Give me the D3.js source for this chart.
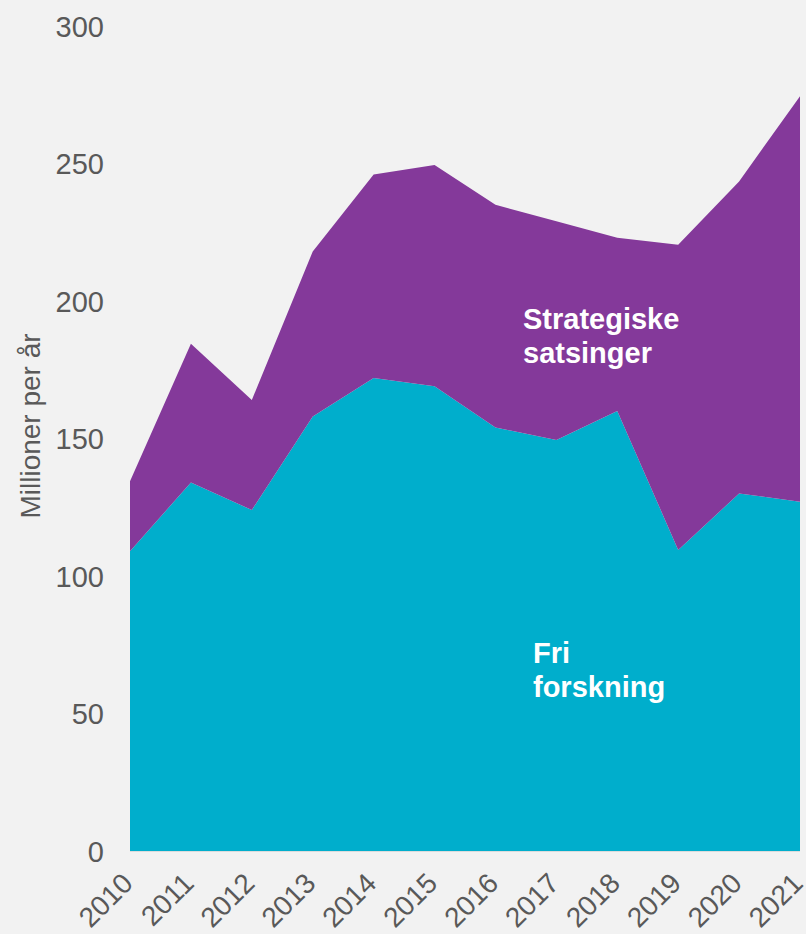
<!DOCTYPE html>
<html>
<head>
<meta charset="utf-8">
<script src="https://cdn.jsdelivr.net/npm/d3@7"></script>
<style>
  html, body { margin: 0; padding: 0; background: #f2f2f2; }
  svg { display: block; }
  text { font-family: "Liberation Sans", Arial, Helvetica, sans-serif; }
</style>
</head>
<body>
<svg id="chart" width="806" height="934"></svg>
<script>
// Yearly funding, million NOK per year
const years = [2010, 2011, 2012, 2013, 2014, 2015, 2016, 2017, 2018, 2019, 2020, 2021];
const friForskning = [109, 134, 124, 158, 172, 169, 154, 149.5, 160, 109.5, 130, 127];
const strategiske = [25.5, 50.5, 40, 60, 74, 80.5, 81, 79.5, 63, 111, 113.5, 147.5];
const yTicks = [0, 50, 100, 150, 200, 250, 300];
const seriesKeys = ["fri", "strategiske"];
const seriesNames = { fri: ["Fri", "forskning"], strategiske: ["Strategiske", "satsinger"] };
const colors = { fri: "#00aecc", strategiske: "#84399a" };

const rows = years.map((yr, i) => ({ year: yr, fri: friForskning[i], strategiske: strategiske[i] }));

const svg = d3.select("#chart");
const plotLeft = 130, plotRight = 800, plotTop = 26, plotBottom = 851;

const x = d3.scaleLinear().domain([years[0], years[years.length - 1]]).range([plotLeft, plotRight]);
const y = d3.scaleLinear().domain([0, 300]).range([plotBottom, plotTop]);

const stacked = d3.stack().keys(seriesKeys)(rows);

const area = d3.area()
  .x(d => x(d.data.year))
  .y0(d => y(d[0]))
  .y1(d => y(d[1]));

svg.append("g").selectAll("path")
  .data(stacked)
  .join("path")
  .attr("d", area)
  .attr("fill", d => colors[d.key]);

// faint baseline under the areas
svg.append("line")
  .attr("x1", plotLeft).attr("x2", plotRight)
  .attr("y1", plotBottom + 0.5).attr("y2", plotBottom + 0.5)
  .attr("stroke", "#dcdcdc").attr("stroke-width", 1);

// Y axis labels
const yAxis = d3.axisLeft(y).tickValues(yTicks).tickSize(0).tickPadding(0);
const gy = svg.append("g").attr("transform", "translate(104,0)").call(yAxis);
gy.select(".domain").remove();
gy.selectAll("text")
  .attr("fill", "#595959")
  .style("font-size", "29px")
  .attr("dy", "0.35em");

// X axis labels, rotated
const xAxis = d3.axisBottom(x).tickValues(years).tickFormat(d3.format("d")).tickSize(0);
const gx = svg.append("g").attr("transform", `translate(0,${plotBottom})`).call(xAxis);
gx.select(".domain").remove();
gx.selectAll("text")
  .attr("fill", "#595959")
  .style("font-size", "28px")
  .attr("text-anchor", "end")
  .attr("y", 0).attr("dy", 0)
  .attr("transform", "translate(4,34) rotate(-45)");

// Y axis title
svg.append("text")
  .attr("transform", "translate(40,426) rotate(-90)")
  .attr("text-anchor", "middle")
  .attr("fill", "#595959")
  .style("font-size", "28px")
  .text("Millioner per år");

// In-area series labels
function seriesLabel(key, px, py) {
  const t = svg.append("text")
    .attr("x", px).attr("y", py)
    .attr("fill", "#ffffff")
    .style("font-size", "29px")
    .style("font-weight", "bold");
  seriesNames[key].forEach((line, i) => {
    t.append("tspan").attr("x", px).attr("dy", i === 0 ? 0 : 34).text(line);
  });
}
seriesLabel("strategiske", 523, 329);
seriesLabel("fri", 533, 663);
</script>
</body>
</html>
